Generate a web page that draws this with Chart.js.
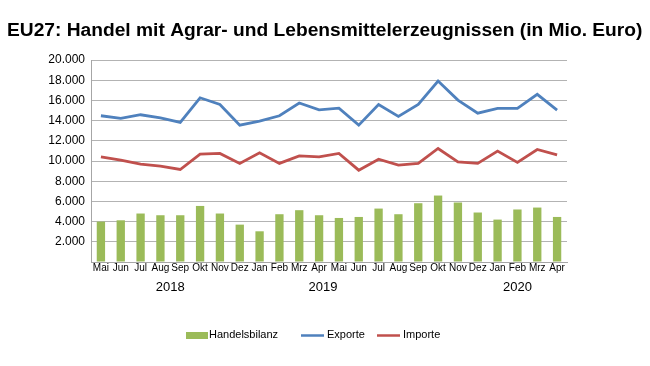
<!DOCTYPE html>
<html>
<head>
<meta charset="utf-8">
<script src="https://cdn.jsdelivr.net/npm/chart.js@4"></script>
<style>
  body { margin: 0; background: #fff; }
  #wrap { width: 650px; height: 366px; }
</style>
</head>
<body>
<div id="wrap"><canvas id="chart"></canvas></div>
<script>
// months Mai 2018 - Apr 2020
const months = ['Mai', 'Jun', 'Jul', 'Aug', 'Sep', 'Okt', 'Nov', 'Dez',
  'Jan', 'Feb', 'Mrz', 'Apr', 'Mai', 'Jun', 'Jul', 'Aug', 'Sep', 'Okt', 'Nov', 'Dez',
  'Jan', 'Feb', 'Mrz', 'Apr'];
const years = ['2018', '2019', '2020'];
const yearPos = [3.5, 11.2, 21];

const handelsbilanz = [4000, 4130, 4800, 4630, 4630, 5550, 4800, 3700,
  3040, 4730, 5130, 4630, 4360, 4460, 5290, 4730, 5820, 6580, 5890, 4900,
  4200, 5200, 5390, 4460];
const exporte = [14480, 14220, 14580, 14280, 13820, 16260, 15600, 13550,
  13950, 14480, 15740, 15070, 15240, 13550, 15600, 14420, 15600, 17920, 16030, 14740,
  15210, 15210, 16600, 15040];
const importe = [10410, 10080, 9690, 9490, 9160, 10680, 10750, 9760,
  10810, 9760, 10510, 10410, 10750, 9090, 10180, 9590, 9760, 11240, 9920, 9760,
  10980, 9860, 11140, 10610];

const titleText = 'EU27: Handel mit Agrar- und Lebensmittelerzeugnissen (in Mio. Euro)';
const fontFam = '"Liberation Sans", Arial, sans-serif';

function fmt(v) {
  return String(v).replace(/\B(?=(\d{3})+(?!\d))/g, '.');
}

// title, year row and legend
const extras = {
  id: 'extras',
  afterDraw(chart) {
    const ctx = chart.ctx;
    const x = chart.scales.x;
    ctx.save();
    ctx.fillStyle = '#000';
    ctx.textBaseline = 'alphabetic';
    ctx.textAlign = 'left';
    // fit title into the width it has in the original
    ctx.font = 'bold 20px ' + fontFam;
    const size = Math.min(20, 20 * 637 / ctx.measureText(titleText).width);
    ctx.font = 'bold ' + size.toFixed(1) + 'px ' + fontFam;
    ctx.fillText(titleText, 7, 36);

    ctx.font = '13px ' + fontFam;
    ctx.textAlign = 'center';
    ctx.textBaseline = 'middle';
    years.forEach((y, i) => ctx.fillText(y, x.getPixelForValue(yearPos[i]), 287));

    // legend
    const ds = chart.data.datasets;
    const ly = 335;
    ctx.font = '11px ' + fontFam;
    ctx.textAlign = 'left';
    ctx.fillStyle = ds[0].backgroundColor;
    ctx.fillRect(186, ly - 3, 22, 7);
    ctx.fillStyle = '#000';
    ctx.fillText(ds[0].label, 209, ly);
    [[1, 301, 327], [2, 377, 403]].forEach(([i, lx, tx]) => {
      ctx.strokeStyle = ds[i].borderColor;
      ctx.lineWidth = 2.5;
      ctx.beginPath();
      ctx.moveTo(lx, ly + 0.5);
      ctx.lineTo(lx + 23, ly + 0.5);
      ctx.stroke();
      ctx.fillStyle = '#000';
      ctx.fillText(ds[i].label, tx, ly);
    });
    ctx.restore();
  }
};

new Chart(document.getElementById('chart'), {
  type: 'bar',
  data: {
    labels: months,
    datasets: [
      {
        type: 'bar',
        label: 'Handelsbilanz',
        data: handelsbilanz,
        backgroundColor: '#9bbb59',
        barPercentage: 0.42,
        categoryPercentage: 1,
        order: 2
      },
      {
        type: 'line',
        label: 'Exporte',
        data: exporte,
        borderColor: '#4f81bd',
        backgroundColor: '#4f81bd',
        borderWidth: 2.8,
        pointRadius: 0,
        tension: 0,
        order: 1
      },
      {
        type: 'line',
        label: 'Importe',
        data: importe,
        borderColor: '#c0504d',
        backgroundColor: '#c0504d',
        borderWidth: 2.8,
        pointRadius: 0,
        tension: 0,
        order: 1
      }
    ]
  },
  options: {
    responsive: true,
    maintainAspectRatio: false,
    animation: false,
    layout: { padding: { left: 0, right: 83, top: 60, bottom: 84 } },
    plugins: {
      legend: { display: false },
      title: { display: false },
      tooltip: { enabled: false }
    },
    scales: {
      x: {
        offset: true,
        grid: { display: true, offset: true, drawOnChartArea: false, drawTicks: false, color: '#a6a6a6' },
        border: { color: '#a6a6a6', width: 1 },
        ticks: {
          autoSkip: false,
          maxRotation: 0,
          minRotation: 0,
          padding: 0,
          color: '#000',
          font: { family: fontFam, size: 10 }
        },
        afterFit(scale) { scale.height = 20; }
      },
      y: {
        min: 0,
        max: 20000,
        grid: { color: '#b3b3b3', drawTicks: false },
        border: { color: '#a6a6a6', width: 1 },
        ticks: {
          stepSize: 2000,
          padding: 6,
          color: '#000',
          font: { family: fontFam, size: 12 },
          callback: v => (v === 0 ? '' : fmt(v))
        },
        afterFit(scale) { scale.width = 91; }
      }
    }
  },
  plugins: [extras]
});
</script>
</body>
</html>
